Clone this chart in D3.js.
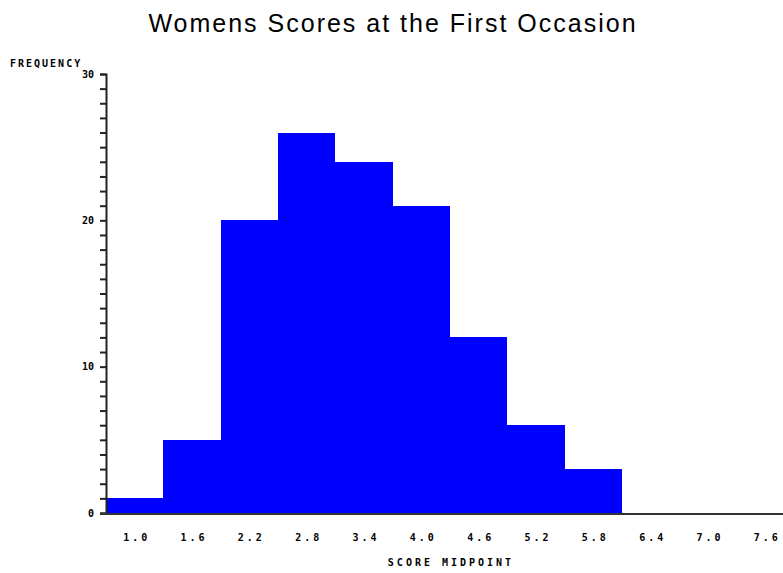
<!DOCTYPE html>
<html>
<head>
<meta charset="utf-8">
<script src="https://cdn.jsdelivr.net/npm/d3@7"></script>
<style>
  body { margin: 0; background: #fff; }
  svg { display: block; }
</style>
</head>
<body>
<div id="chart"></div>
<script>
// Histogram data (bin midpoints and counts)
const midpoints = [1.0, 1.6, 2.2, 2.8, 3.4, 4.0, 4.6, 5.2, 5.8, 6.4, 7.0, 7.6];
const counts = [1, 5, 20, 26, 24, 21, 12, 6, 3, 0, 0, 0];
const tickLabels = ["1.0", "1.6", "2.2", "2.8", "3.4", "4.0", "4.6", "5.2", "5.8", "6.4", "7.0", "7.6"];
const yTicks = [0, 10, 20, 30];

const W = 783, H = 573;
const binWidth = 0.6;

const svg = d3.select("#chart")
  .append("svg")
  .attr("width", W)
  .attr("height", H);

// Scales
const x = d3.scaleLinear()
  .domain([midpoints[0] - binWidth / 2, midpoints[midpoints.length - 1] + binWidth / 2])
  .range([106, 794]);
const y = d3.scaleLinear()
  .domain([0, 30])
  .range([513, 74]);

// Title
svg.append("text")
  .attr("x", 393)
  .attr("y", 32)
  .attr("text-anchor", "middle")
  .style("font-family", "'Liberation Sans', Arial, sans-serif")
  .style("font-size", "25px")
  .style("letter-spacing", "2px")
  .text("Womens Scores at the First Occasion");

// Bars
svg.append("g")
  .attr("shape-rendering", "crispEdges")
  .selectAll("rect")
  .data(midpoints.map((m, i) => ({m, c: counts[i]})).filter(d => d.c > 0))
  .join("rect")
  .attr("x", d => x(d.m - binWidth / 2))
  .attr("y", d => y(d.c))
  .attr("width", d => x(d.m + binWidth / 2) - x(d.m - binWidth / 2))
  .attr("height", d => y(0) - y(d.c))
  .attr("fill", "#0000ff");

// Y axis with minor ticks every unit
const yAxis = svg.append("g")
  .attr("transform", "translate(106,0)")
  .call(d3.axisLeft(y).tickValues(d3.range(0, 31)).tickSize(6)
    .tickFormat(d => yTicks.includes(d) ? d : ""));
yAxis.select(".domain").attr("stroke", "#222").attr("stroke-width", 2);
yAxis.selectAll(".tick line").attr("stroke", "#222").attr("stroke-width", 2);
yAxis.selectAll(".tick text")
  .attr("x", -12)
  .style("font-family", "'DejaVu Sans Mono', monospace")
  .style("font-weight", "bold")
  .style("font-size", "10px");

// X axis (no tick marks)
const xAxis = svg.append("g")
  .attr("transform", "translate(0,514)")
  .call(d3.axisBottom(x).tickValues(midpoints).tickSize(0)
    .tickFormat((d, i) => tickLabels[i]));
xAxis.select(".domain").attr("stroke", "#333").attr("stroke-width", 2)
  .attr("d", `M100,0H${W}`);
xAxis.selectAll(".tick text")
  .attr("y", 20)
  .attr("dx", "1.5px")
  .style("font-family", "'DejaVu Sans Mono', monospace")
  .style("font-weight", "bold")
  .style("font-size", "10px")
  .style("letter-spacing", "3px");

// Axis labels
svg.append("text")
  .attr("x", 10)
  .attr("y", 67)
  .style("font-family", "'DejaVu Sans Mono', monospace")
  .style("font-weight", "bold")
  .style("font-size", "10px")
  .style("letter-spacing", "2px")
  .text("FREQUENCY");

svg.append("text")
  .attr("x", 451)
  .attr("y", 566)
  .attr("text-anchor", "middle")
  .style("font-family", "'DejaVu Sans Mono', monospace")
  .style("font-weight", "bold")
  .style("font-size", "10px")
  .style("letter-spacing", "3px")
  .text("SCORE MIDPOINT");
</script>
</body>
</html>
